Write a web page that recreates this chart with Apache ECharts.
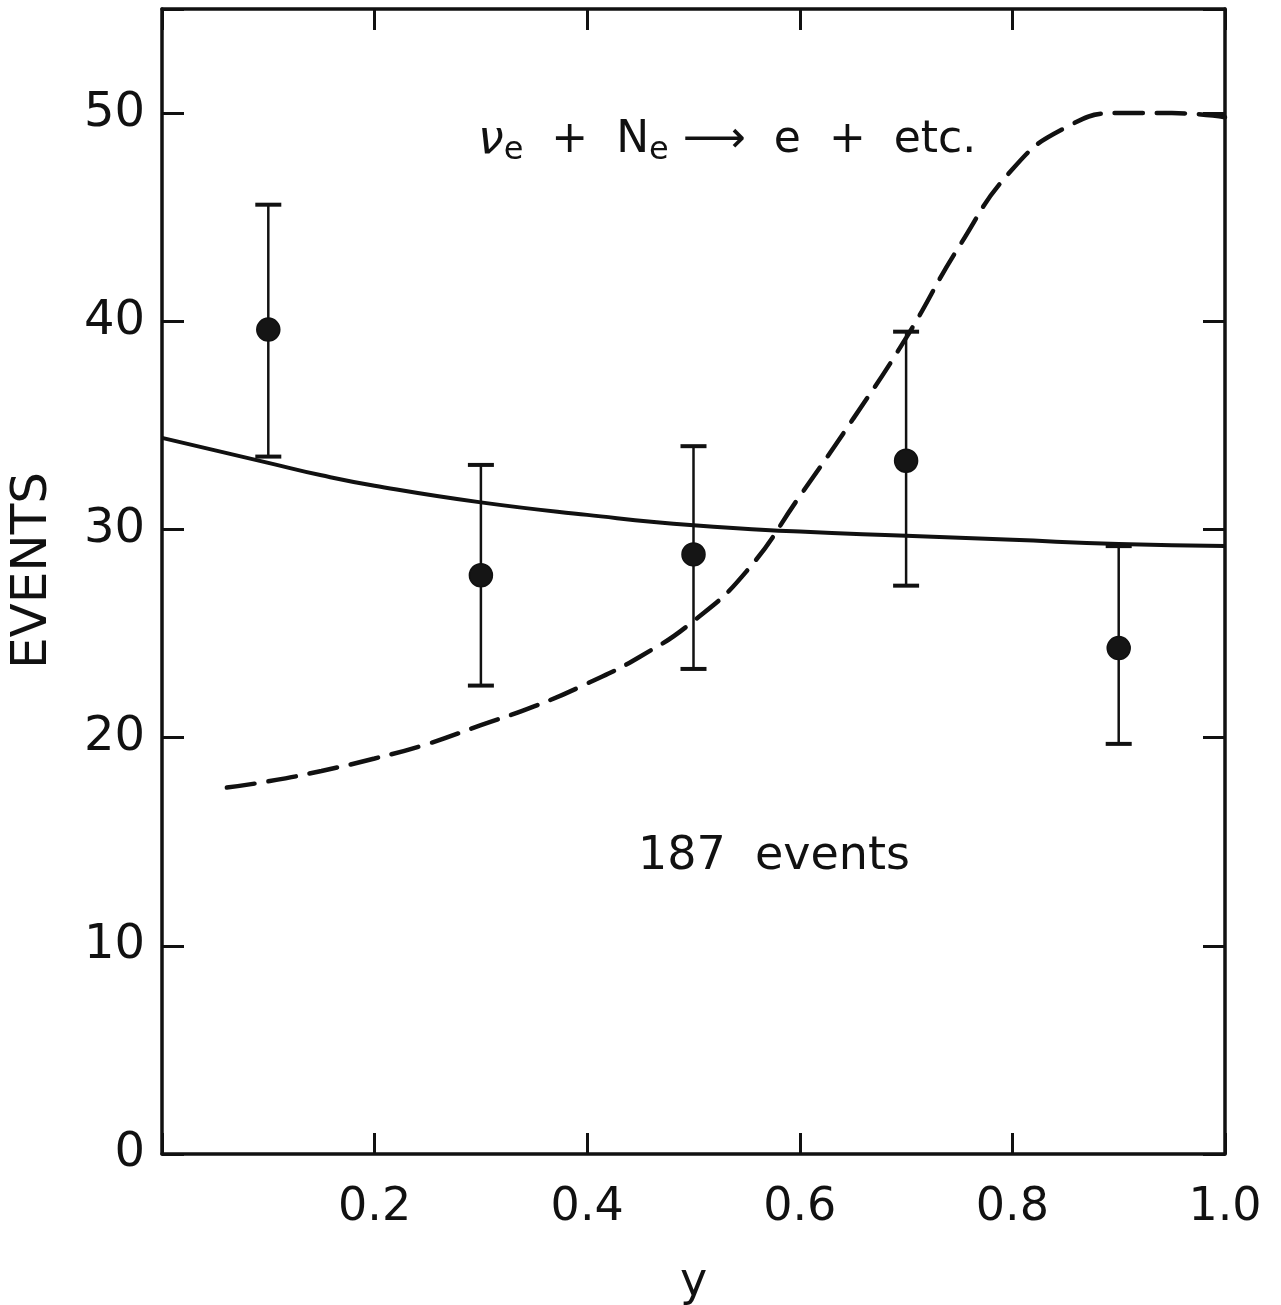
<!DOCTYPE html>
<html>
<head>
<meta charset="utf-8">
<script src="https://cdn.jsdelivr.net/npm/echarts@6/dist/echarts.min.js"></script>
<style>
html,body{margin:0;padding:0;background:#fff;}
#c{width:1281px;height:1305px;}
</style>
</head>
<body>
<div id="c"></div>
<script>
// Data
const xTicks = [0.2, 0.4, 0.6, 0.8, 1.0];
const yTicks = [0, 10, 20, 30, 40, 50];

const pointX   = [0.1, 0.3, 0.5, 0.7, 0.9];
const pointY   = [39.6, 27.8, 28.8, 33.3, 24.3];
const errHigh  = [45.6, 33.1, 34.0, 39.5, 29.2];
const errLow   = [33.5, 22.5, 23.3, 27.3, 19.7];

const solidX = [0, 0.05, 0.1, 0.15, 0.2, 0.3, 0.4, 0.5, 0.6, 0.7, 0.8, 0.9, 1.0];
const solidY = [34.4, 33.8, 33.2, 32.6, 32.1, 31.3, 30.7, 30.2, 29.9, 29.7, 29.5, 29.3, 29.2];

const dashX = [0.061, 0.10, 0.15, 0.20, 0.25, 0.30, 0.35, 0.40, 0.45, 0.50, 0.55, 0.60, 0.65, 0.70, 0.75, 0.80, 0.85, 0.90, 0.95, 1.0];
const dashY = [17.6, 17.9, 18.4, 19.0, 19.7, 20.6, 21.5, 22.6, 23.9, 25.6, 28.0, 31.6, 35.3, 39.2, 43.6, 47.3, 49.3, 50.0, 50.0, 49.8];

const FONT = '"DejaVu Sans", sans-serif';
const WEIGHT = 'normal';
const INK = '#111';

const chart = echarts.init(document.getElementById('c'));

const zip = (a, b) => a.map((v, i) => [v, b[i]]);

const baseY = {
  type: 'value', min: 0, max: 55, interval: 10,
  splitLine: { show: false },
  axisLine: { show: true, onZero: false, lineStyle: { color: INK, width: 3.5 } },
  axisTick: { show: true, inside: true, length: 22, lineStyle: { color: INK, width: 3 } },
};
const baseX = {
  type: 'value', min: 0, max: 1.0, interval: 0.2,
  splitLine: { show: false },
  axisLine: { show: true, onZero: false, lineStyle: { color: INK, width: 3.5 } },
  axisTick: { show: true, inside: true, length: 21, lineStyle: { color: INK, width: 3 } },
};

chart.setOption({
  backgroundColor: '#fff',
  animation: false,
  grid: { left: 162, right: 56, top: 9, bottom: 151, containLabel: false, outerBoundsMode: 'none' },
  xAxis: [
    Object.assign({}, baseX, {
      position: 'bottom',
      name: 'y', nameLocation: 'middle', nameGap: 106,
      nameTextStyle: { fontFamily: FONT, fontSize: 46, color: INK, fontWeight: WEIGHT },
      axisLabel: {
        show: true, margin: 31, fontFamily: FONT, fontSize: 46, color: INK, fontWeight: WEIGHT,
        formatter: v => (xTicks.some(t => Math.abs(t - v) < 1e-9) ? v.toFixed(1) : '')
      }
    }),
    Object.assign({}, baseX, { position: 'top', axisLabel: { show: false } })
  ],
  yAxis: [
    Object.assign({}, baseY, {
      position: 'left',
      name: 'EVENTS', nameLocation: 'middle', nameGap: 104, nameRotate: 90,
      nameTextStyle: { fontFamily: FONT, fontSize: 50, color: INK, fontWeight: WEIGHT, padding: [0, 0, 0, 22] },
      axisLabel: {
        show: true, margin: 17, fontFamily: FONT, fontSize: 48, color: INK, fontWeight: WEIGHT,
        formatter: v => (yTicks.indexOf(v) >= 0 ? String(v) : '')
      }
    }),
    Object.assign({}, baseY, { position: 'right', axisLabel: { show: false } })
  ],
  graphic: [
    {
      type: 'text', left: 478, top: 118,
      style: {
        text: '{i|ν}{s|e}{n|  +  N}{s|e}{n| ⟶  e  +  etc.}',
        rich: {
          i: { fontFamily: FONT, fontSize: 46, fontStyle: 'italic', fill: INK, fontWeight: WEIGHT },
          n: { fontFamily: FONT, fontSize: 44, fill: INK, fontWeight: WEIGHT },
          s: { fontFamily: FONT, fontSize: 32, fill: INK, fontWeight: WEIGHT, verticalAlign: 'bottom', padding: [20, 0, 0, 0] }
        }
      }
    },
    {
      type: 'text', left: 638, top: 834,
      style: { text: '187  events', fontFamily: FONT, fontSize: 46, fill: INK, fontWeight: WEIGHT }
    }
  ],
  series: [
    {
      type: 'line', data: zip(solidX, solidY), smooth: true, showSymbol: false,
      lineStyle: { color: INK, width: 4 }, z: 3
    },
    {
      type: 'line', data: zip(dashX, dashY), smooth: true, showSymbol: false,
      lineStyle: { color: INK, width: 4.5, type: [28, 14], cap: 'round' }, z: 3
    },
    {
      type: 'custom',
      data: pointX.map((x, i) => [x, errLow[i], errHigh[i]]),
      renderItem: (params, api) => {
        const lo = api.coord([api.value(0), api.value(1)]);
        const hi = api.coord([api.value(0), api.value(2)]);
        const w = 13;
        return {
          type: 'group',
          children: [
            { type: 'line', shape: { x1: lo[0], y1: lo[1], x2: hi[0], y2: hi[1] }, style: { stroke: INK, lineWidth: 2.5 } },
            { type: 'line', shape: { x1: lo[0] - w, y1: lo[1], x2: lo[0] + w, y2: lo[1] }, style: { stroke: INK, lineWidth: 4 } },
            { type: 'line', shape: { x1: hi[0] - w, y1: hi[1], x2: hi[0] + w, y2: hi[1] }, style: { stroke: INK, lineWidth: 4 } }
          ]
        };
      },
      z: 4
    },
    {
      type: 'scatter', data: zip(pointX, pointY), symbol: 'circle', symbolSize: 23,
      itemStyle: { color: '#151515', opacity: 1, borderColor: INK, borderWidth: 1.5 }, z: 5
    }
  ]
});
</script>
</body>
</html>
